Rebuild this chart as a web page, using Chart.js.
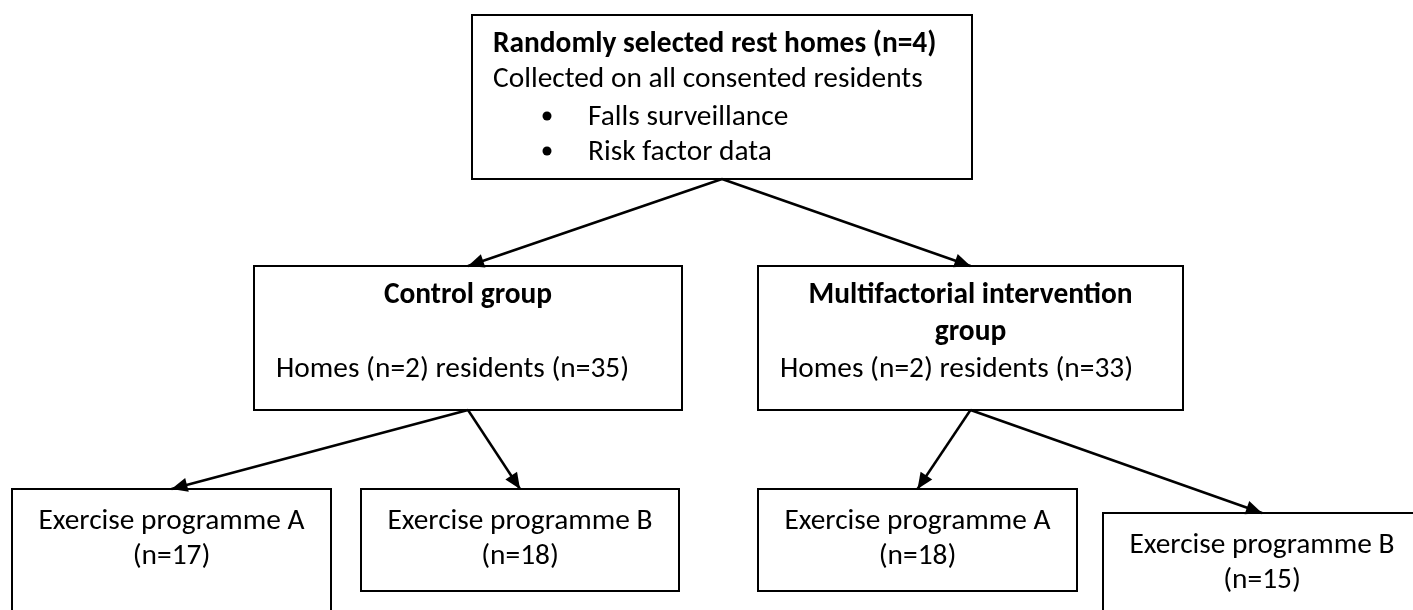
<!DOCTYPE html>
<html>
<head>
<meta charset="utf-8">
<title>Study flow</title>
<script src="https://cdn.jsdelivr.net/npm/chart.js@4/dist/chart.umd.min.js"></script>
<style>
  html, body { margin: 0; padding: 0; background: #fff; }
  #flow { display: block; }
</style>
</head>
<body>
<canvas id="flow" width="1413" height="610"></canvas>
<script>
// text of the boxes
const totalHomes = 4;
const collectedOn = 'Collected on all consented residents';
const measures = ['Falls surveillance', 'Risk factor data'];
const groups = ['Control group', 'Multifactorial intervention group'];
const groupHomes = [2, 2];
const groupResidents = [35, 33];
const programmes = ['Exercise programme A', 'Exercise programme B', 'Exercise programme A', 'Exercise programme B'];
const programmeN = [17, 18, 18, 15];
const programmeGroup = [0, 0, 1, 1];

// layout in the chart's own units (x 0-1413 across, y 0-610 down)
const topBox = [472, 15, 972, 179];
const groupBoxes = [[254, 266, 682, 410], [758, 266, 1183, 410]];
const programmeBoxes = [[12, 489, 331, 640], [361, 489, 679, 591], [758, 489, 1077, 591], [1103, 513, 1421, 640]];

const FONT = 'Carlito, Lato, "Open Sans", sans-serif';
const INK = '#000';

const midX = b => (b[0] + b[2]) / 2;

function boxSet(b) {
  return {
    data: [{x: b[0], y: b[1]}, {x: b[2], y: b[1]}, {x: b[2], y: b[3]}, {x: b[0], y: b[3]}, {x: b[0], y: b[1]}],
    borderColor: INK, borderWidth: 2, borderCapStyle: 'square', borderJoinStyle: 'miter'
  };
}

function arrowSet(from, to) {
  return {
    arrow: true,
    data: [{x: midX(from), y: from[3]}, {x: midX(to), y: to[1]}],
    borderColor: INK, borderWidth: 2.5
  };
}

const datasets = [boxSet(topBox)];
groupBoxes.forEach(b => datasets.push(boxSet(b)));
programmeBoxes.forEach(b => datasets.push(boxSet(b)));
groupBoxes.forEach(b => datasets.push(arrowSet(topBox, b)));
programmeBoxes.forEach((b, i) => datasets.push(arrowSet(groupBoxes[programmeGroup[i]], b)));

// font size chosen so that a programme label spans the same width as the original
function fitSize(ctx) {
  ctx.font = '100px ' + FONT;
  const w = ctx.measureText(programmes[0]).width;
  return 100 * 266 / w;
}

function wrap(ctx, text, maxW) {
  const words = text.split(' ');
  const lines = [];
  let line = '';
  words.forEach(w => {
    const test = line ? line + ' ' + w : w;
    if (line && ctx.measureText(test).width > maxW) {
      lines.push(line);
      line = w;
    } else {
      line = test;
    }
  });
  lines.push(line);
  return lines;
}

const arrowHeads = {
  id: 'arrowHeads',
  afterDatasetsDraw(chart) {
    const ctx = chart.ctx;
    chart.data.datasets.forEach((ds, i) => {
      if (!ds.arrow) return;
      const pts = chart.getDatasetMeta(i).data;
      const a = pts[0], b = pts[1];
      const ang = Math.atan2(b.y - a.y, b.x - a.x);
      const len = 16, half = 7;
      ctx.save();
      ctx.fillStyle = INK;
      ctx.beginPath();
      ctx.moveTo(b.x, b.y);
      ctx.lineTo(b.x - len * Math.cos(ang) + half * Math.sin(ang), b.y - len * Math.sin(ang) - half * Math.cos(ang));
      ctx.lineTo(b.x - len * Math.cos(ang) - half * Math.sin(ang), b.y - len * Math.sin(ang) + half * Math.cos(ang));
      ctx.closePath();
      ctx.fill();
      ctx.restore();
    });
  }
};

const boxText = {
  id: 'boxText',
  afterDraw(chart) {
    const ctx = chart.ctx;
    const sx = v => chart.scales.x.getPixelForValue(v);
    const sy = v => chart.scales.y.getPixelForValue(v);
    const size = fitSize(ctx);
    const reg = size.toFixed(1) + 'px ' + FONT;
    const bold = 'bold ' + reg;
    ctx.save();
    ctx.fillStyle = INK;
    ctx.textBaseline = 'alphabetic';

    // top box
    ctx.textAlign = 'left';
    ctx.font = bold;
    ctx.fillText('Randomly selected rest homes (n=' + totalHomes + ')', sx(topBox[0] + 21), sy(topBox[1] + 37));
    ctx.font = reg;
    ctx.fillText(collectedOn, sx(topBox[0] + 21), sy(topBox[1] + 72));
    measures.forEach((m, i) => {
      const y = topBox[1] + 110 + i * 35;
      ctx.beginPath();
      ctx.arc(sx(topBox[0] + 75), sy(y - 9), 4.5, 0, Math.PI * 2);
      ctx.fill();
      ctx.fillText(m, sx(topBox[0] + 116), sy(y));
    });

    // group boxes
    groupBoxes.forEach((b, i) => {
      ctx.font = bold;
      ctx.textAlign = 'center';
      const lines = wrap(ctx, groups[i], b[2] - b[0] - 60);
      lines.forEach((l, j) => ctx.fillText(l, sx(midX(b)), sy(b[1] + 37 + j * 37)));
      ctx.font = reg;
      ctx.textAlign = 'left';
      ctx.fillText('Homes (n=' + groupHomes[i] + ') residents (n=' + groupResidents[i] + ')', sx(b[0] + 22), sy(b[1] + 111));
    });

    // programme boxes
    ctx.font = reg;
    ctx.textAlign = 'center';
    programmeBoxes.forEach((b, i) => {
      ctx.fillText(programmes[i], sx(midX(b)), sy(b[1] + 40));
      ctx.fillText('(n=' + programmeN[i] + ')', sx(midX(b)), sy(b[1] + 75));
    });
    ctx.restore();
  }
};

new Chart(document.getElementById('flow'), {
  type: 'scatter',
  data: { datasets: datasets },
  options: {
    responsive: false,
    animation: false,
    showLine: true,
    clip: false,
    layout: { padding: 0 },
    elements: { point: { radius: 0, hoverRadius: 0 }, line: { tension: 0, fill: false } },
    scales: {
      x: { type: 'linear', min: 0, max: 1413, display: false },
      y: { type: 'linear', min: 0, max: 610, reverse: true, display: false }
    },
    plugins: { legend: { display: false }, tooltip: { enabled: false } },
    events: []
  },
  plugins: [arrowHeads, boxText]
});
</script>
</body>
</html>
